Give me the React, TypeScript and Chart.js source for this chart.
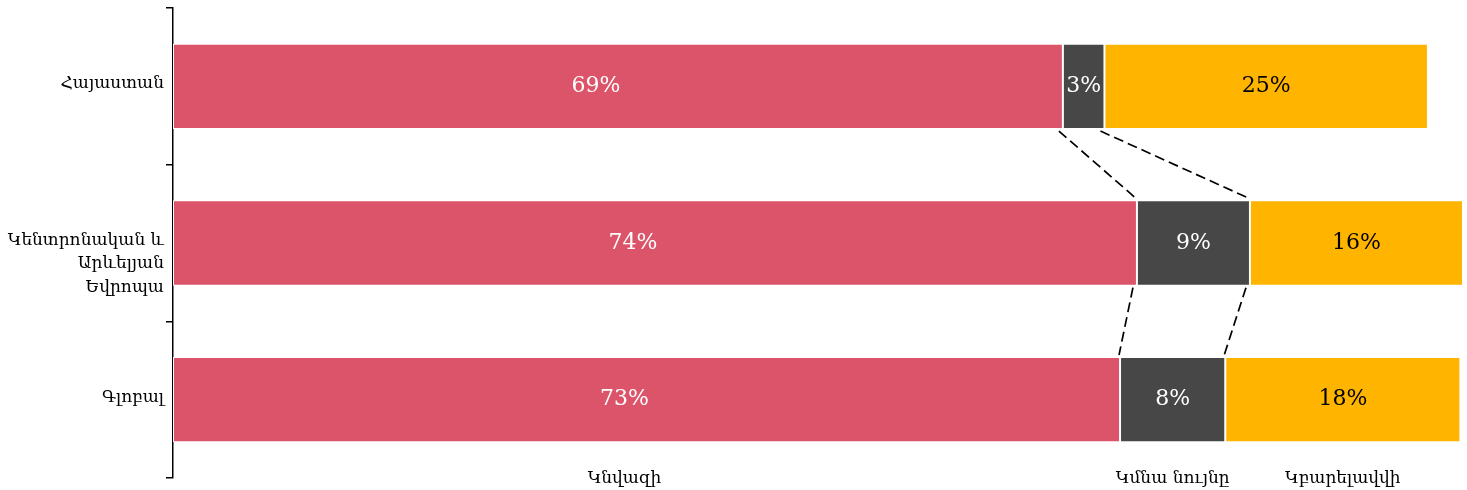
import React, { useEffect, useRef } from "react";
import { Chart, registerables } from "chart.js";

Chart.register(...registerables);

const categories: (string | string[])[] = [
  "Հայաստան",
  ["Կենտրոնական և", "Արևելյան", "Եվրոպա"],
  "Գլոբալ",
];
const seriesNames = ["Կնվազի", "Կմնա նույնը", "Կբարելավվի"];
const decrease = [68.5, 74.2, 72.9];
const same = [3.2, 8.7, 8.1];
const improve = [24.9, 16.4, 18.1];
const colors = ["#DC546A", "#474747", "#FFB400"];
const labelColors = ["#ffffff", "#ffffff", "#000000"];
const labelShift = [-22, 0, 0];

const FONT = "'DejaVu Serif', serif";

const overlayPlugin = {
  id: "overlay",
  afterDatasetsDraw(chart: any) {
    const ctx = chart.ctx;
    const metas = chart.data.datasets.map((_: any, i: number) => chart.getDatasetMeta(i));
    // data labels
    ctx.save();
    ctx.font = `22px ${FONT}`;
    ctx.textAlign = "center";
    ctx.textBaseline = "middle";
    metas.forEach((meta: any, di: number) => {
      meta.data.forEach((el: any, i: number) => {
        const v = chart.data.datasets[di].data[i];
        const cx = (el.x + el.base) / 2 + labelShift[di];
        ctx.fillStyle = labelColors[di];
        ctx.fillText(Math.round(v) + "%", cx, el.y);
      });
    });
    ctx.restore();

    // dashed connectors
    ctx.save();
    ctx.strokeStyle = "#000";
    ctx.lineWidth = 1.7;
    ctx.setLineDash([10, 5]);
    const n = categories.length;
    for (let i = 0; i < n - 1; i++) {
      for (let d = 0; d < metas.length - 1; d++) {
        const a = metas[d].data[i];
        const b = metas[d].data[i + 1];
        ctx.beginPath();
        ctx.moveTo(a.x - 4, a.y + a.height / 2 + 2);
        ctx.lineTo(b.x - 1, b.y - b.height / 2 - 2);
        ctx.stroke();
      }
    }
    ctx.restore();

    // series names under the last bar
    ctx.save();
    ctx.font = `17px ${FONT}`;
    ctx.fillStyle = "#000";
    ctx.textAlign = "center";
    ctx.textBaseline = "middle";
    metas.forEach((meta: any, di: number) => {
      const el = meta.data[n - 1];
      const cx = (el.x + el.base) / 2 + labelShift[di];
      ctx.fillText(seriesNames[di], cx, el.y + el.height / 2 + 36);
    });
    ctx.restore();

    // category labels: first line at the bar centre, further lines below
    const yScale = chart.scales.y;
    ctx.save();
    ctx.font = `17px ${FONT}`;
    ctx.fillStyle = "#000";
    ctx.textAlign = "right";
    ctx.textBaseline = "middle";
    categories.forEach((c, i) => {
      const lines = Array.isArray(c) ? c : [c];
      const y0 = yScale.getPixelForValue(i) - 2.5;
      lines.forEach((ln, k) => {
        ctx.fillText(ln, yScale.right - 9, y0 + k * 23.5);
      });
    });
    ctx.restore();
  },
};

export default function App() {
  const ref = useRef<HTMLCanvasElement | null>(null);
  useEffect(() => {
    if (!ref.current) return;
    const totals = categories.map((_, i) => decrease[i] + same[i] + improve[i]);
    const seriesData = [decrease, same, improve];
    const chart = new Chart(ref.current, {
      type: "bar",
      data: {
        labels: categories as any,
        datasets: seriesData.map((d, i) => ({
          label: seriesNames[i],
          data: d,
          backgroundColor: colors[i],
          borderColor: "#ffffff",
          borderWidth: 1,
          borderSkipped: false,
          categoryPercentage: 1,
          barPercentage: 0.545,
        })),
      },
      options: {
        indexAxis: "y",
        animation: false,
        responsive: true,
        maintainAspectRatio: false,
        layout: { padding: { top: 8, right: 4, bottom: 12, left: 0 } },
        plugins: {
          legend: { display: false },
          tooltip: { enabled: false },
        },
        scales: {
          x: {
            stacked: true,
            display: false,
            min: 0,
            max: Math.max(...totals),
          },
          y: {
            stacked: true,
            offset: true,
            afterFit: (scale: any) => {
              scale.width = 173;
              scale.paddingTop = 0;
              scale.paddingBottom = 0;
            },
            grid: {
              display: true,
              offset: true,
              drawOnChartArea: false,
              drawTicks: true,
              tickLength: 7,
              color: "#000",
              lineWidth: 1.5,
            },
            border: { display: true, color: "#000", width: 1.5 },
            ticks: { display: false },
          },
        },
      },
      plugins: [overlayPlugin],
    });
    return () => chart.destroy();
  }, []);
  return (
    <div style={{ position: "absolute", left: 0, top: 0, width: 1467, height: 490 }}>
      <canvas ref={ref} />
    </div>
  );
}
